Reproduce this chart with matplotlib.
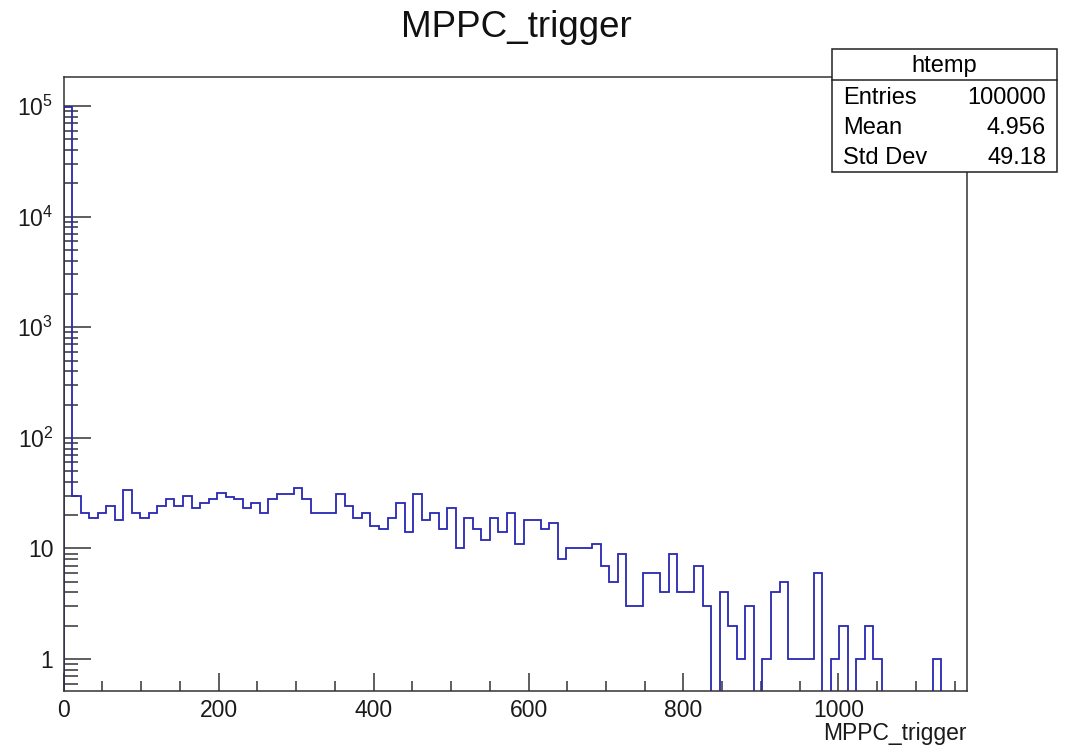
import numpy as np
import matplotlib
matplotlib.use('Agg')
import matplotlib.pyplot as plt
from matplotlib.ticker import FixedLocator, FuncFormatter, MultipleLocator, LogLocator, NullFormatter
from matplotlib.patches import Rectangle
from matplotlib.lines import Line2D

# histogram binning (htemp: 106 bins of width 11)
x_low = 0
bin_width = 11
n_bins = 106

# bin contents
counts = [98576, 30, 21, 19, 21, 24, 18, 34, 21, 19,
          21, 24, 28, 24, 30, 23, 26, 28, 32, 29,
          28, 23, 26, 21, 28, 31, 31, 35, 28, 21,
          21, 21, 31, 24, 19, 21, 16, 15, 19, 26,
          14, 31, 18, 21, 15, 23, 10, 19, 15, 12,
          19, 14, 21, 11, 18, 18, 15, 17, 8, 10,
          10, 10, 11, 7, 5, 9, 3, 3, 6, 6,
          4, 9, 4, 4, 7, 3, 0, 4, 2, 1,
          3, 0, 1, 4, 5, 1, 1, 1, 6, 0,
          1, 2, 0, 1, 2, 1, 0, 0, 0, 0,
          0, 0, 1, 0, 0, 0]

stat_labels = ['Entries', 'Mean', 'Std Dev']
stat_values = ['100000', '4.956', '49.18']
hist_name = 'htemp'
title = 'MPPC_trigger'
x_label = 'MPPC_trigger'

plt.rcParams['font.family'] = ['Liberation Sans', 'DejaVu Sans']
plt.rcParams['mathtext.fontset'] = 'custom'
plt.rcParams['mathtext.rm'] = 'Liberation Sans'
plt.rcParams['mathtext.it'] = 'Liberation Sans:italic'

W, H = 1068, 749
fig = plt.figure(figsize=(W / 100, H / 100), dpi=100)
ax = fig.add_axes([63.7 / W, 1 - 690.5 / H, (967 - 63.7) / W, (690.5 - 76.7) / H])

edges = x_low + bin_width * np.arange(n_bins + 1)
vals = np.array(counts, dtype=float)
draw_vals = np.where(vals > 0, vals, 1e-3)  # empty bins drop below the frame like ROOT
ax.stairs(draw_vals, edges, baseline=1e-3, color='#2828b4', lw=1.3, zorder=2)

ax.set_yscale('log')
ax.set_xlim(edges[0], edges[-1])
ax.set_ylim(0.52, 1.84e5)

ax.xaxis.set_major_locator(MultipleLocator(200))
ax.xaxis.set_minor_locator(MultipleLocator(50))
ax.yaxis.set_major_locator(FixedLocator([1, 10, 1e2, 1e3, 1e4, 1e5]))
ax.yaxis.set_minor_locator(LogLocator(base=10, subs=np.arange(2, 10)))
ax.yaxis.set_minor_formatter(NullFormatter())


def ylab(v, pos):
    e = int(round(np.log10(v)))
    if e == 0:
        return '1'
    if e == 1:
        return '10'
    return r'$\mathregular{10^{%d}}$' % e


ax.yaxis.set_major_formatter(FuncFormatter(ylab))

ax.tick_params(axis='both', which='both', direction='in', top=False, right=False,
               color='#333333', width=1.1, labelsize=16.5, labelcolor='#1a1a1a')
ax.tick_params(axis='x', which='major', length=13, pad=6)
ax.tick_params(axis='x', which='minor', length=7)
ax.tick_params(axis='y', which='major', length=19.5, pad=7.5)
ax.tick_params(axis='y', which='minor', length=10)
for s in ax.spines.values():
    s.set_linewidth(1.1)
    s.set_color('#333333')

fig.text(516 / W, 1 - 37 / H, title, ha='center', va='baseline', fontsize=26.5, color='#111111')
fig.text(967 / W, 1 - 740 / H, x_label, ha='right', va='baseline', fontsize=16.5, color='#1a1a1a')

# stats box
bx0, bx1 = 831.5 / W, 1057 / W
by_top, by_bot = 1 - 49.3 / H, 1 - 171.7 / H
fig.patches.append(Rectangle((bx0, by_bot), bx1 - bx0, by_top - by_bot, transform=fig.transFigure,
                             facecolor='white', edgecolor='#222222', lw=1.1, zorder=5))
fig.lines.append(Line2D([bx0, bx1], [1 - 80 / H, 1 - 80 / H], transform=fig.transFigure,
                        color='#222222', lw=1.1, zorder=6))
fig.text(944 / W, 1 - 71.7 / H, hist_name, ha='center', va='baseline', fontsize=17, zorder=7)
for lab, val, yb in zip(stat_labels, stat_values, [104.3, 134.3, 164]):
    fig.text(843 / W, 1 - yb / H, lab, ha='left', va='baseline', fontsize=17, zorder=7)
    fig.text(1046 / W, 1 - yb / H, val, ha='right', va='baseline', fontsize=17, zorder=7)

fig.savefig('out.png', dpi=100)
